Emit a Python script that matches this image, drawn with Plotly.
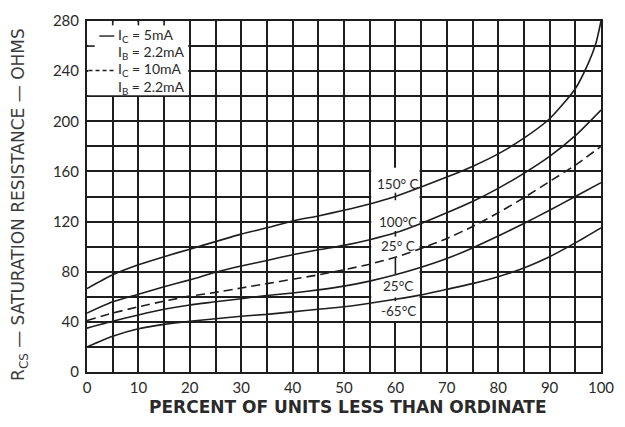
import plotly.graph_objects as go

# ---- data ----
pct = [0, 5, 10, 15, 20, 25, 30, 35, 40, 45, 50, 55, 60, 65, 70, 75, 80, 85, 90, 95, 100]
pct_150 = [0, 5, 10, 15, 20, 25, 30, 35, 40, 45, 50, 55, 60, 65, 70, 75, 80, 85, 90, 95, 97.5, 99, 100]

r_150 = [66.5, 77.5, 85.5, 92, 98, 104, 110, 115, 120.5, 124.5, 129, 134, 140, 147.5, 155.5, 164, 174, 186.5, 202, 226, 246, 262, 280]
r_100 = [47, 56, 62, 68, 73.5, 79.5, 84.5, 89, 93.5, 97.5, 101, 105.5, 111, 118.5, 127, 136, 146.5, 158.5, 172, 188.5, 209]
r_25_10mA = [41, 47, 52, 56.5, 60.5, 63.5, 67, 70.5, 74, 77.5, 81.5, 86, 91.5, 98.5, 106.5, 116, 127, 139, 152, 165, 180]
r_25 = [35, 40.5, 45.5, 50, 53.5, 56, 58.5, 61, 63, 65.5, 68.5, 72.5, 77.5, 83.5, 90.5, 99, 108.5, 118.5, 129, 140, 151]
r_m65 = [20, 28.5, 34.5, 38, 40.5, 42.5, 44.5, 46, 48, 50, 52, 54.8, 58, 61.5, 66, 70.5, 76, 83, 92, 103, 115]

x_ticks = [0, 10, 20, 30, 40, 50, 60, 70, 80, 90, 100]
y_ticks = [0, 40, 80, 120, 160, 200, 240, 280]

curve_labels = ["150° C", "100°C", "25° C", "25°C", "-65°C"]
label_y = [150, 119.5, 100.5, 68.5, 48.5]

INK = "#1e1e1e"
TXT = "#2a2a2a"

fig = go.Figure()

def add_curve(x, y, dash="solid"):
    fig.add_trace(go.Scatter(x=x, y=y, mode="lines",
                             line=dict(color=INK, width=1.6, dash=dash, shape="spline", smoothing=0.6),
                             hoverinfo="skip", showlegend=False))

add_curve(pct_150, r_150)
add_curve(pct, r_100)
add_curve(pct, r_25_10mA, dash="9px,5px")
add_curve(pct, r_25)
add_curve(pct, r_m65)

shapes = []
# white boxes hiding the grid (legend box, label box)
shapes.append(dict(type="rect", xref="x", yref="y", x0=0.25, x1=19.7, y0=220.7, y1=279.7,
                   fillcolor="white", line=dict(width=0), layer="between"))
shapes.append(dict(type="rect", xref="x", yref="y", x0=55.3, x1=64.7, y0=40.7, y1=163,
                   fillcolor="white", line=dict(width=0), layer="between"))
# small stubs on frame inside legend box
for xs in [5, 10, 15]:
    shapes.append(dict(type="line", xref="x", yref="y", x0=xs, x1=xs, y0=280, y1=276.5,
                       line=dict(color=INK, width=1.6), layer="between"))
shapes.append(dict(type="line", xref="x", yref="y", x0=0, x1=1.5, y0=260, y1=260,
                   line=dict(color=INK, width=1.6), layer="between"))
# leader ticks at 60 %
for (a, b) in [(137, 143), (108, 112.5), (78, 91.5), (56.5, 59.5)]:
    shapes.append(dict(type="line", xref="x", yref="y", x0=60, x1=60, y0=a, y1=b,
                       line=dict(color=INK, width=1.6), layer="between"))
# legend samples
shapes.append(dict(type="line", xref="x", yref="y", x0=2.4, x1=5.3, y0=268, y1=268,
                   line=dict(color=INK, width=1.4)))
shapes.append(dict(type="line", xref="x", yref="y", x0=0.3, x1=5.3, y0=240.5, y1=240.5,
                   line=dict(color=INK, width=1.4, dash="4px,3px")))

annotations = []
legend_lines = [("I<sub>C</sub> = 5mA", 268.5), ("I<sub>B</sub> = 2.2mA", 254.5),
                ("I<sub>C</sub> = 10mA", 241), ("I<sub>B</sub> = 2.2mA", 227)]
for txt, yv in legend_lines:
    annotations.append(dict(x=5.6, y=yv, xref="x", yref="y", text=txt, showarrow=False,
                            xanchor="left", yanchor="middle",
                            font=dict(family="Lato", size=14, color=TXT)))
for txt, yv in zip(curve_labels, label_y):
    annotations.append(dict(x=60.6, y=yv, xref="x", yref="y", text=txt, showarrow=False,
                            xanchor="center", yanchor="middle",
                            font=dict(family="Lato", size=13.5, color=TXT)))
annotations.append(dict(x=-0.131, y=0.478, xref="paper", yref="paper",
                        text="R<sub>CS</sub> — SATURATION RESISTANCE — OHMS",
                        textangle=-90, showarrow=False, xanchor="center", yanchor="middle",
                        font=dict(family="DejaVu Sans", size=17, color="#3a3a3a")))
annotations.append(dict(x=0.508, y=-0.1, xref="paper", yref="paper",
                        text="<b>PERCENT OF UNITS LESS THAN ORDINATE</b>",
                        showarrow=False, xanchor="center", yanchor="middle",
                        font=dict(family="DejaVu Sans", size=17, color="#2a2a2a")))

fig.update_layout(
    width=625, height=427,
    margin=dict(l=87, r=11, t=13, b=55),
    paper_bgcolor="white", plot_bgcolor="white",
    shapes=shapes, annotations=annotations,
    showlegend=False,
)
fig.update_xaxes(range=[0, 100], tickvals=x_ticks, ticktext=[str(v) for v in x_ticks],
                 showgrid=True, gridcolor=INK, gridwidth=1.6,
                 minor=dict(dtick=5, tick0=0, showgrid=True, gridcolor=INK, gridwidth=1.6),
                 showline=True, linecolor=INK, linewidth=2, mirror=True,
                 ticks="", zeroline=False, ticklabelstandoff=1, ticklabeloverflow="allow",
                 tickfont=dict(family="Lato", size=15, color=TXT))
fig.update_yaxes(range=[0, 280], tickvals=y_ticks, ticktext=[str(v) for v in y_ticks],
                 showgrid=True, gridcolor=INK, gridwidth=1.6,
                 minor=dict(dtick=20, tick0=0, showgrid=True, gridcolor=INK, gridwidth=1.6),
                 showline=True, linecolor=INK, linewidth=2, mirror=True,
                 ticks="", zeroline=False, ticklabelstandoff=3,
                 tickfont=dict(family="Lato", size=15, color=TXT))

fig.write_html("out.html")
